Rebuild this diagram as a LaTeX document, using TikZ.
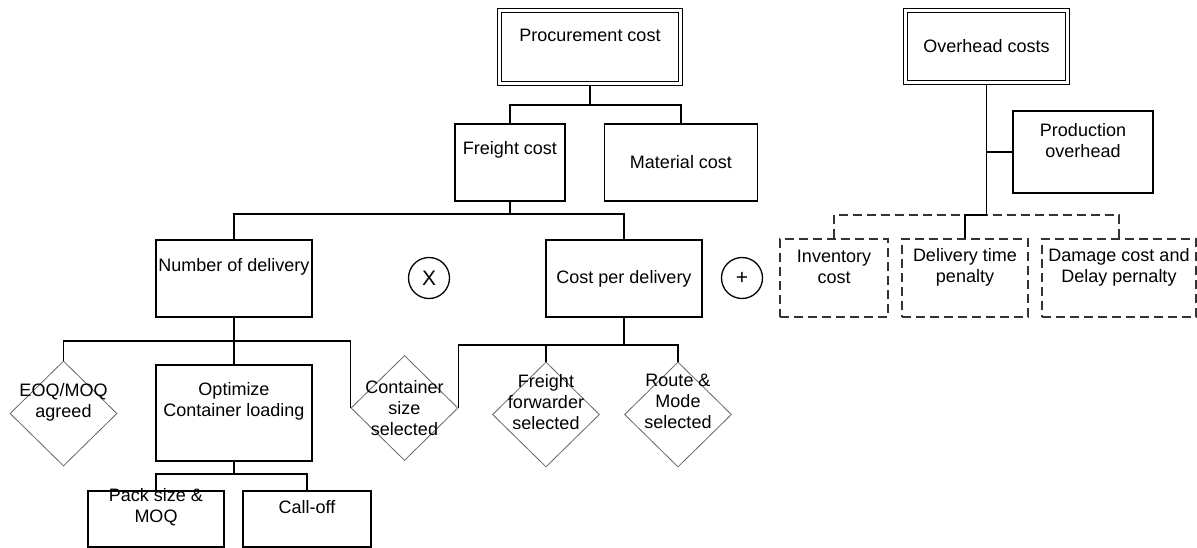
\documentclass[tikz,border=0pt]{standalone}
\usepackage{fontspec}
\setmainfont{Liberation Sans}
\usetikzlibrary{shapes.geometric, positioning}
\tikzset{
  box/.style={draw, line width=1.3pt, inner sep=0pt},
  dbox/.style={box, double, double distance=2.4pt, line width=1.2pt, outer sep=2.4pt},
  dashbox/.style={draw=black!80, line width=1.2pt, dash pattern=on 9pt off 5pt, minimum height=78, inner sep=0pt},
  dec/.style={diamond, draw=black!60, line width=.8pt, minimum width=107, minimum height=105, inner sep=0pt},
  op/.style={circle, draw, line width=1.3pt, minimum size=41, inner sep=0pt, font=\fontsize{21}{24}\selectfont},
  lbl/.style={align=center, inner sep=0pt},
  link/.style={line width=1.3pt},
  dashlink/.style={draw=black!80, line width=1.2pt, dash pattern=on 9pt off 5pt}
}
\begin{document}
\begin{tikzpicture}[x=1pt, y=-1pt, font=\fontsize{18}{21}\selectfont]
\useasboundingbox (0,0) rectangle (1197,548);
\node[dbox, minimum width=181, minimum height=73] (proc) at (590,47) {};
\node[lbl] (proc-t) at ([yshift=12]proc.center) {Procurement cost};
\node[box, minimum width=110, minimum height=77] (freight) at (510,162.5) {};
\node[lbl] (freight-t) at ([yshift=12.5]freight.center) {Freight cost};
\node[box, minimum width=153, minimum height=77] (material) at (681,162.5) {Material cost};
\node[box, minimum width=156, minimum height=77] (numdel) at (234,278.5) {};
\node[lbl] (numdel-t) at ([yshift=11.5]numdel.center) {Number of delivery};
\node[box, minimum width=156, minimum height=77] (costdel) at (624,278.5) {Cost per delivery};
\node[op] (times) at (429,278) {X};
\node[op] (plus) at (742,278) {+};
\node[dec] (eoq) at (63.5,413.5) {};
\node[lbl] (eoq-t) at ([yshift=11.5]eoq.center) {EOQ/MOQ\\agreed};
\node[box, minimum width=156, minimum height=96] (optim) at (234,413) {};
\node[lbl] (optim-t) at ([yshift=11.5]optim.center) {Optimize\\Container loading};
\node[box, minimum width=136, minimum height=56] (pack) at (156,519) {};
\node[lbl] (pack-t) at ([yshift=11.5]pack.center) {Pack size \&\\MOQ};
\node[box, minimum width=128, minimum height=56] (calloff) at (307,519) {};
\node[lbl] (calloff-t) at ([yshift=12]calloff.center) {Call-off};
\node[dec] (contsz) at (404.5,408) {};
\node[lbl] (contsz-t) at (contsz.center) {Container\\size\\selected};
\node[dec] (fwd) at (546,414.5) {};
\node[lbl] (fwd-t) at ([yshift=12.5]fwd.center) {Freight\\forwarder\\selected};
\node[dec] (route) at (678,414.5) {};
\node[lbl] (route-t) at ([yshift=13]route.center) {Route \&\\Mode\\selected};
\node[dbox, minimum width=162, minimum height=72] (overhead) at (986.5,46.5) {Overhead costs};
\node[box, minimum width=140, minimum height=82] (prodov) at (1083,152) {};
\node[lbl] (prodov-t) at ([yshift=11.5]prodov.center) {Production\\overhead};
\node[dashbox, minimum width=108] (inv) at (834,278) {};
\node[lbl] (inv-t) at ([yshift=11]inv.center) {Inventory\\cost};
\node[dashbox, minimum width=126] (deltime) at (965,278) {};
\node[lbl] (deltime-t) at ([yshift=11]deltime.center) {Delivery time\\penalty};
\node[dashbox, minimum width=154] (damage) at (1119,278) {};
\node[lbl] (damage-t) at ([yshift=11]damage.center) {Damage cost and\\Delay pernalty};
\coordinate (j1) at (590,105);
\coordinate (j2) at (510,214);
\coordinate (j3) at (234,341);
\coordinate (j4) at (624,345);
\coordinate (j5) at (234,474);
\coordinate (j6) at (986.5,215);
\coordinate (j7) at (986.5,152);
\draw[link] (proc) -- (j1) -| (freight);
\draw[link] (j1) -| (material);
\draw[link] (freight) -- (j2) -| (numdel);
\draw[link] (j2) -| (costdel);
\draw[link] (numdel) -- (j3) -- (optim);
\draw[link] (j3) -| (eoq.north);
\draw[link] (j3) -| (contsz.west);
\draw[link] (costdel) -- (j4) -| (contsz.east);
\draw[link] (j4) -| (fwd.north);
\draw[link] (j4) -| (route.north);
\draw[link] (optim) -- (j5) -| (pack);
\draw[link] (j5) -| (calloff);
\draw[dashlink] (inv) |- (j6) -| (damage);
\draw[link] (overhead) -- (j6) -| (deltime);
\draw[link] (j7) -- (prodov);
\end{tikzpicture}
\end{document}
